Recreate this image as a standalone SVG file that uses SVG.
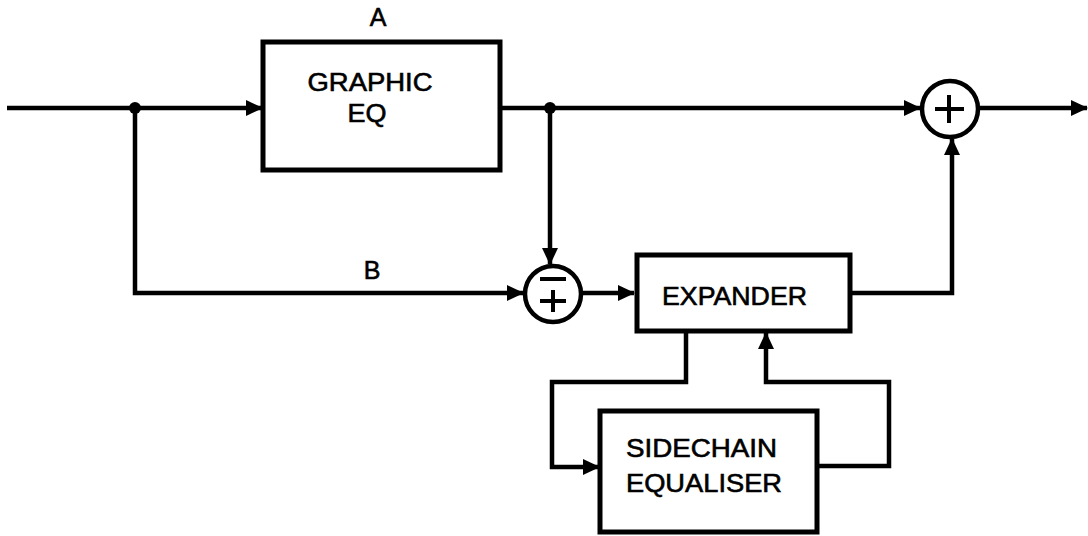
<svg xmlns="http://www.w3.org/2000/svg" width="1088" height="536" viewBox="0 0 1088 536">
  <style>
    .box { fill: #fff; stroke: #000; stroke-width: 5; }
    .sum { fill: #fff; stroke: #000; stroke-width: 4.5; }
    .wire { fill: none; stroke: #000; stroke-width: 4.5; stroke-linejoin: miter; }
    .sign { fill: none; stroke: #000; stroke-width: 4; }
    .lbl { font-family: "Liberation Sans", Arial, sans-serif; font-size: 25px; fill: #000; stroke: #000; stroke-width: 0.6; }
  </style>
  <defs>
    <marker id="arr" markerUnits="userSpaceOnUse" markerWidth="17" markerHeight="16" refX="16" refY="8" orient="auto">
      <path d="M0,0 L17,8 L0,16 Z" fill="#000"/>
    </marker>
  </defs>
  <rect width="1088" height="536" fill="#fff"/>

  <g id="connectors">
    <path class="wire" d="M7,108 H262" marker-end="url(#arr)"/>
    <path class="wire" d="M135,108 V293 H523" marker-end="url(#arr)"/>
    <path class="wire" d="M502,108 H920" marker-end="url(#arr)"/>
    <path class="wire" d="M550,108 V264" marker-end="url(#arr)"/>
    <path class="wire" d="M979,108 H1087" marker-end="url(#arr)"/>
    <path class="wire" d="M582,293 H634" marker-end="url(#arr)"/>
    <path class="wire" d="M850,293 H952 V139" marker-end="url(#arr)"/>
    <path class="wire" d="M686,332 V382 H552 V467 H599" marker-end="url(#arr)"/>
    <path class="wire" d="M817,466 H889 V382 H766 V333" marker-end="url(#arr)"/>
    <circle cx="135" cy="108" r="6" fill="#000"/>
    <circle cx="550" cy="108" r="6" fill="#000"/>
  </g>

  <g id="graphic-eq">
    <rect class="box" x="263" y="42" width="237" height="128"/>
    <text class="lbl" x="370" y="91" text-anchor="middle" textLength="125" lengthAdjust="spacingAndGlyphs">GRAPHIC</text>
    <text class="lbl" x="367" y="122" text-anchor="middle" textLength="39" lengthAdjust="spacingAndGlyphs">EQ</text>
  </g>

  <g id="label-a">
    <text class="lbl" x="378" y="26" text-anchor="middle">A</text>
  </g>

  <g id="label-b">
    <text class="lbl" x="372" y="279" text-anchor="middle">B</text>
  </g>

  <g id="sum-out">
    <circle class="sum" cx="950" cy="109" r="28"/>
    <path class="sign" d="M935,109 H964 M949,95 V123"/>
  </g>

  <g id="sum-diff">
    <circle class="sum" cx="553" cy="294" r="28"/>
    <path class="sign" d="M540,279 H566 M540,301 H566 M553,290 V312"/>
  </g>

  <g id="expander">
    <rect class="box" x="637" y="255" width="213" height="76"/>
    <text class="lbl" x="662" y="305" textLength="145" lengthAdjust="spacingAndGlyphs">EXPANDER</text>
  </g>

  <g id="sidechain-equaliser">
    <rect class="box" x="600" y="411" width="217" height="121"/>
    <text class="lbl" x="626" y="457" textLength="151" lengthAdjust="spacingAndGlyphs">SIDECHAIN</text>
    <text class="lbl" x="626" y="492" textLength="156" lengthAdjust="spacingAndGlyphs">EQUALISER</text>
  </g>
</svg>
